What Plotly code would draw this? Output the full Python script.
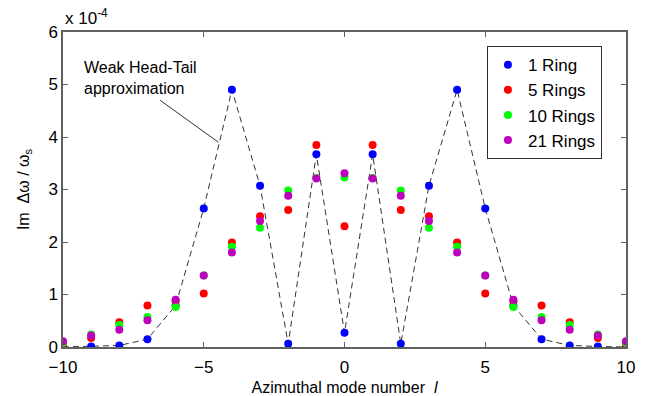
import plotly.graph_objects as go

modes = list(range(-10, 11))
ring1 = [0.00, 0.01, 0.03, 0.15, 0.79, 2.64, 4.90, 3.07, 0.06, 3.67, 0.27,
         3.67, 0.06, 3.07, 4.90, 2.64, 0.79, 0.15, 0.03, 0.01, 0.00]
ring5 = [0.05, 0.17, 0.47, 0.79, 0.87, 1.02, 1.99, 2.49, 2.61, 3.85, 2.30,
         3.85, 2.61, 2.49, 1.99, 1.02, 0.87, 0.79, 0.47, 0.17, 0.05]
ring10 = [0.08, 0.24, 0.42, 0.57, 0.76, 1.36, 1.91, 2.27, 2.98, 3.22, 3.23,
          3.22, 2.98, 2.27, 1.91, 1.36, 0.76, 0.57, 0.42, 0.24, 0.08]
ring21 = [0.11, 0.22, 0.33, 0.51, 0.90, 1.36, 1.80, 2.40, 2.88, 3.21, 3.31,
          3.21, 2.88, 2.40, 1.80, 1.36, 0.90, 0.51, 0.33, 0.22, 0.11]
weak_ht = ring1  # weak head-tail approximation follows the 1-ring values

series = [("1 Ring", ring1, "#0000FF"), ("5 Rings", ring5, "#FF0000"),
          ("10 Rings", ring10, "#00FF00"), ("21 Rings", ring21, "#BF00BF")]

FONT = "Liberation Sans, Arial, sans-serif"
fig = go.Figure()
fig.add_trace(go.Scatter(x=modes, y=weak_ht, mode="lines", showlegend=False,
                         line=dict(color="#333333", width=1, dash="6px,4px")))
for name, vals, col in series:
    fig.add_trace(go.Scatter(x=modes, y=vals, mode="markers", name=name,
                             marker=dict(color=col, size=8, line=dict(width=0))))

axis_common = dict(showline=True, linecolor="#606060", linewidth=1.5, mirror="ticks",
                   ticks="inside", ticklen=5, tickcolor="#606060", showgrid=False,
                   zeroline=False, automargin=False,
                   tickfont=dict(size=17, color="#000000", family=FONT))
fig.update_xaxes(range=[-10, 10], tickvals=[-10, -5, 0, 5, 10], ticklabelstandoff=4,
                 title=dict(text="Azimuthal mode number  <i>l</i>", font=dict(size=16, family=FONT, color="#000")),
                 **axis_common)
fig.update_yaxes(range=[0, 6], tickvals=[0, 1, 2, 3, 4, 5, 6],
                 title=dict(text="Im  Δω / ω<sub>s</sub>", font=dict(size=16, family=FONT, color="#000")),
                 **axis_common)

fig.add_annotation(xref="paper", yref="paper", x=0, y=1.0, xanchor="left", yanchor="bottom",
                   yshift=2, text="x 10<sup>-4</sup>", showarrow=False,
                   font=dict(size=17, family=FONT, color="#000"))
fig.add_annotation(x=-9.32, y=5.52, xanchor="left", yanchor="top", align="left",
                   text="Weak Head-Tail<br>approximation", showarrow=False,
                   font=dict(size=16, family=FONT, color="#000"))
fig.add_shape(type="line", xref="x", yref="y", x0=-6.55, y0=4.70, x1=-4.48, y1=3.90,
              line=dict(color="#333333", width=1))

fig.update_layout(width=646, height=396, margin=dict(l=63, r=20, t=32, b=49),
                  plot_bgcolor="white", paper_bgcolor="white",
                  font=dict(family=FONT, size=16, color="#000"),
                  legend=dict(x=0.753, y=0.955, xanchor="left", yanchor="top",
                              bgcolor="white", bordercolor="#303030", borderwidth=1,
                              font=dict(size=17, family=FONT, color="#000"),
                              itemwidth=30, tracegroupgap=0,
                              entrywidth=118, entrywidthmode="pixels"))
fig.write_html("out.html")
